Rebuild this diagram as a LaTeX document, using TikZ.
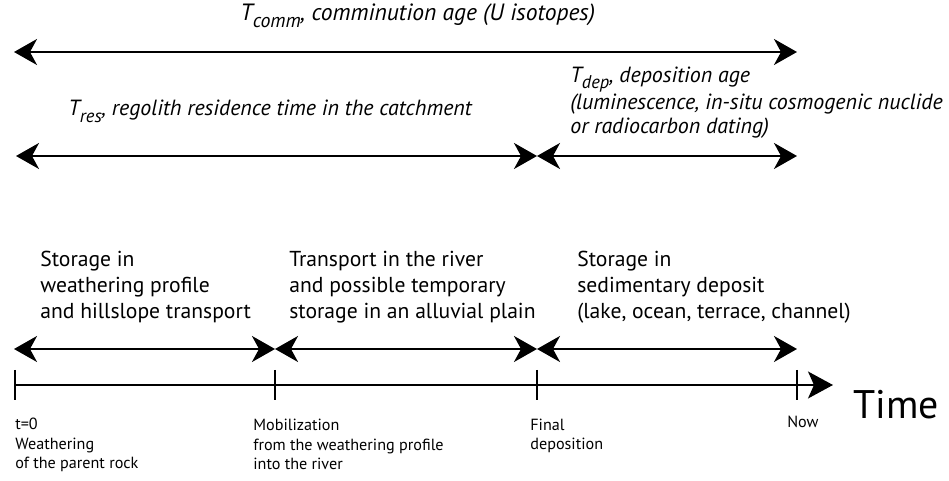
\documentclass[tikz,border=0pt]{standalone}
\usepackage{fontspec}
\setmainfont{PT Sans}
\usetikzlibrary{positioning}
\usetikzlibrary{arrows.meta}

% symbol for an age, T with a lowered subscript (#1 = size of the subscript)
\newcommand{\agesym}[2]{T\raisebox{-0.55ex}{\fontsize{#1}{#1}\selectfont #2}}

\begin{document}
\begin{tikzpicture}[
	agespan/.style={line width=1.2pt,
		{Stealth[length=0.46cm,width=0.52cm,inset=0.14cm]}-{Stealth[length=0.46cm,width=0.52cm,inset=0.14cm]}},
	axisline/.style={line width=0.75pt, -{Stealth[length=0.5cm,width=0.54cm,inset=0.12cm]}},
	tickmark/.style={line width=0.6pt},
	agelabel/.style={anchor=base west, inner sep=0pt, align=left,
		font=\itshape\fontsize{12.5}{13.9}\selectfont},
	phaselabel/.style={anchor=base west, inner sep=0pt, align=left,
		font=\fontsize{12.3}{15}\selectfont},
	eventlabel/.style={anchor=base west, inner sep=0pt, align=left,
		font=\fontsize{9.2}{11.3}\selectfont}
	]
	
	\useasboundingbox (0,0) rectangle (18.98,-9.62);
	
	% the time axis, one coordinate per tick, left to right
	\coordinate (T0) at (0.30,-7.70);
	\coordinate (T1) at (5.50,-7.70);
	\coordinate (T2) at (10.74,-7.70);
	\coordinate (T3) at (15.94,-7.70);
	\coordinate (TE) at (16.66,-7.70);
	
	\draw[axisline] (T0) -- (TE);
	\foreach \t in {T0,T1,T2,T3}
		\draw[tickmark] ([yshift=0.30cm]\t) -- ([yshift=-0.30cm]\t);
	
	\node[anchor=base west, inner sep=0pt, font=\fontsize{22.7}{24}\selectfont] (time) at (17.06,-8.38) {Time};
	
	%%%%%%%%%%%%%%%%%%%%%%%%%%%%%%%%%%%%%%%%%%%%%%%%%%%%%%%%%%%%%%
	% the three phases, just above the axis
	\coordinate (P0) at (0.28,-6.98);
	\coordinate (P1) at (5.50,-6.98);
	\coordinate (P2) at (10.74,-6.98);
	\coordinate (P3) at (15.94,-6.98);
	
	\draw[agespan] (P0) -- (P1);
	\draw[agespan] (P1) -- (P2);
	\draw[agespan] (P2) -- (P3);
	
	% the ages, upper rows
	\coordinate (R0) at (0.32,-3.12);
	\coordinate (R1) at (10.74,-3.12);
	\coordinate (R2) at (15.94,-3.12);
	\coordinate (C0) at (0.28,-1.04);
	\coordinate (C1) at (15.94,-1.04);
	
	\draw[agespan] (R0) -- (R1);
	\draw[agespan] (R1) -- (R2);
	\draw[agespan] (C0) -- (C1);
	
	%%%%%%%%%%%%%%%%%%%%%%%%%%%%%%%%%%%%%%%%%%%%%%%%%%%%%%%%%%%%%%
	% labels (multi-line nodes sit on the baseline of their last line)
	\node[agelabel, font=\itshape\fontsize{13.4}{15}\selectfont] (comm) at (4.80,-0.42) {\agesym{11.3}{comm}, comminution age (U isotopes)};
	\node[agelabel] (res) at (1.36,-2.32) {\agesym{10.5}{res}, regolith residence time in the catchment};
	\node[agelabel] (dep) at (11.40,-2.68) {\agesym{10.5}{dep}, deposition age\\(luminescence, in-situ cosmogenic nuclide\\or radiocarbon dating)};
	
	\node[phaselabel] (ph1) at (0.80,-6.38) {Storage in\\weathering profile\\and hillslope transport};
	\node[phaselabel] (ph2) at (5.78,-6.38) {Transport in the river\\and possible temporary\\storage in an alluvial plain};
	\node[phaselabel] (ph3) at (11.54,-6.38) {Storage in\\sedimentary deposit\\(lake, ocean, terrace, channel)};
	
	\node[eventlabel] (ev0) at (0.30,-9.38) {t=0\\Weathering\\of the parent rock};
	\node[eventlabel] (ev1) at (5.06,-9.40) {Mobilization\\from the weathering profile\\into the river};
	\node[eventlabel] (ev2) at (10.60,-9.00) {Final\\deposition};
	\node[eventlabel] (ev3) at (15.74,-8.56) {Now};
	
\end{tikzpicture}
\end{document}
